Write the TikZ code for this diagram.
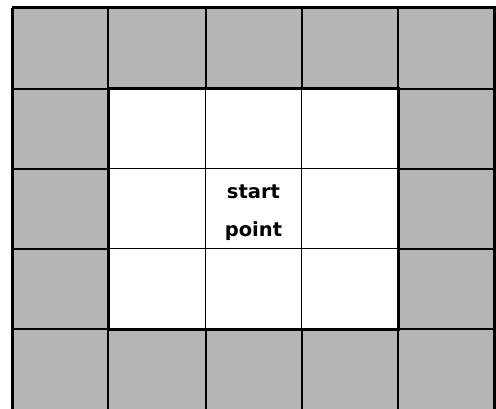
\documentclass[tikz,border=0pt]{standalone}
\usepackage{fontspec}
\newfontfamily\labelfont{DejaVu Sans}
\definecolor{dotgray}{gray}{0.71}
\tikzset{
  gridmed/.style={line width=2pt,black},
  gridthin/.style={line width=1.1pt,black},
  gridthick/.style={line width=3pt,black},
  labeltext/.style={align=center,inner sep=0pt,font=\labelfont\bfseries\fontsize{19.5}{38}\selectfont}
}
\begin{document}
\begin{tikzpicture}[x=1pt,y=-1pt]
\useasboundingbox (0,0) rectangle (496,408);
% gray ring
\fill[dotgray] (12,7.5) rectangle (494,411);
% full grid (medium)
\foreach \xx in {108,205.5,301.5,398} \draw[gridmed] (\xx,7.5) -- (\xx,411);
\foreach \yy in {88.5,168.5,248.5,329} \draw[gridmed] (12,\yy) -- (494,\yy);
% white interior
\fill[white] (108,88.5) rectangle (398,329);
\foreach \xx in {205.5,301.5} \draw[gridthin] (\xx,88.5) -- (\xx,329);
\foreach \yy in {168.5,248.5} \draw[gridthin] (108,\yy) -- (398,\yy);
% borders
\draw[gridthick] (108,88.5) rectangle (398,329);
\draw[gridthick] (12,7.5) -- (494,7.5) -- (494,411);
\draw[gridthick] (12,7.5) -- (12,411);
\node[labeltext] (start) at (253.5,213) {start\\point};
\end{tikzpicture}
\end{document}
